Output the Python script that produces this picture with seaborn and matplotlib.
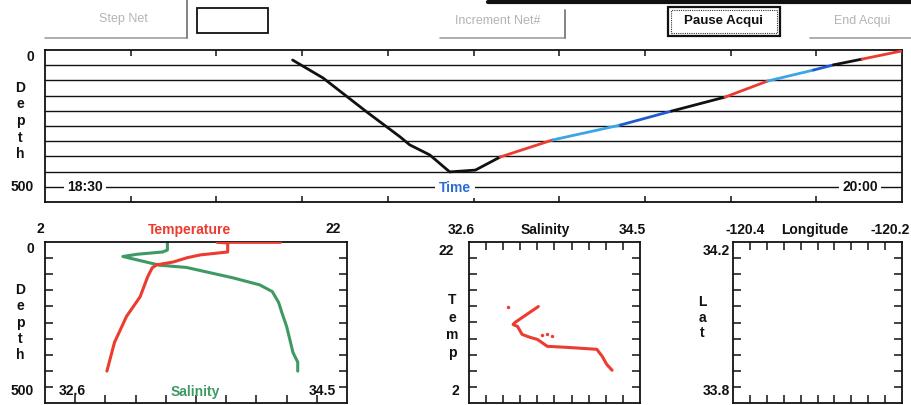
import itertools

import matplotlib
matplotlib.use("Agg")
import matplotlib.pyplot as plt
import numpy as np
import seaborn as sns
from matplotlib.lines import Line2D
from matplotlib.patches import Rectangle

W, H = 911, 405

# cast track: minutes after 18:30 vs depth, colour key per segment
cast_time = [26.0, 29.2, 33.8, 37.3, 38.3, 40.4, 42.5, 45.2, 47.8,
             53.3, 60.4, 65.8, 71.4, 75.9, 80.7, 82.8, 85.8, 90.0]
cast_depth = [33, 92, 204, 286, 312, 345, 401, 395, 352,
              296, 247, 201, 155, 102, 66, 49, 30, 3]
cast_leg = ["k", "k", "k", "k", "k", "k", "k", "k",
            "r", "c", "b", "k", "r", "c", "b", "k", "r"]

# temperature profile (deep -> surface)
temp_value = [6.1, 6.6, 7.4, 8.3, 8.8, 9.1, 9.4, 10.5, 11.4, 12.3,
              14.1, 14.1, 13.4, 17.6]
temp_depth = [401, 312, 231, 170, 108, 80, 71, 62, 49, 40, 31, 3, 1, 1]

# salinity profile (surface -> deep)
sal_value = [33.37, 33.37, 33.34, 33.18, 33.09, 33.32, 33.49, 33.58, 33.78,
             33.95, 34.03, 34.07, 34.09, 34.12, 34.14, 34.16, 34.19, 34.19]
sal_depth = [0, 25, 31, 38, 45, 72, 79, 89, 111,
             133, 154, 188, 219, 262, 302, 343, 373, 401]

# T-S diagram
ts_salinity = [33.37, 33.24, 33.11, 33.09, 33.14, 33.19, 33.28, 33.36,
               33.47, 33.69, 34.02, 34.08, 34.13, 34.19]
ts_temp = [13.98, 12.99, 12.0, 11.75, 11.5, 10.52, 10.15, 9.9,
           9.04, 8.91, 8.67, 7.8, 6.8, 6.07]
ts_stray_sal = [33.03, 33.41, 33.47, 33.52]
ts_stray_temp = [13.98, 10.4, 10.6, 10.27]

COLORS = {"k": "#111111", "r": "#ec3b30", "c": "#3aa6e6", "b": "#1f5bd0"}
RED = "#ec3b30"
GREEN = "#3e9a62"
GREY = "#b4b4b4"

sns.set_theme(style="white")
plt.rcParams["font.family"] = ["Liberation Sans", "DejaVu Sans"]
plt.rcParams["axes.linewidth"] = 1.3
plt.rcParams["axes.edgecolor"] = "#111111"

fig = plt.figure(figsize=(W / 100, H / 100), dpi=100)
fig.patch.set_facecolor("white")


def px_axes(x0, y0, x1, y1):
    return fig.add_axes([x0 / W, 1 - y1 / H, (x1 - x0) / W, (y1 - y0) / H])


def px_text(x, y, s, size=10, weight="bold", color="#111111", **kw):
    kw.setdefault("ha", "center")
    fig.text(x / W, 1 - y / H, s, fontsize=size, fontweight=weight,
             color=color, va="center", **kw)


def px_line(xs, ys, color="#111111", lw=1.0, **kw):
    fig.add_artist(Line2D([x / W for x in xs], [1 - y / H for y in ys],
                          color=color, lw=lw, transform=fig.transFigure, **kw))


def px_rect(x0, y0, x1, y1, **kw):
    fig.add_artist(Rectangle((x0 / W, 1 - y1 / H), (x1 - x0) / W, (y1 - y0) / H,
                             transform=fig.transFigure, fill=False, **kw))


def vertical_word(x, y0, step, word):
    for i, ch in enumerate(word):
        px_text(x, y0 + i * step, ch)


def box_ticks(ax, length=6, sides=("top", "bottom", "left", "right")):
    ax.set_xticks(np.linspace(*ax.get_xlim(), 11)[1:-1])
    ax.set_yticks(np.linspace(*ax.get_ylim(), 11)[1:-1])
    ax.tick_params(direction="in", length=length, width=1.1, color="#111111",
                   top="top" in sides, bottom="bottom" in sides,
                   left="left" in sides, right="right" in sides,
                   labelbottom=False, labelleft=False)
    ax.set_xlabel("")
    ax.set_ylabel("")


# ---- toolbar strip ----
px_line([488, 911], [1.5, 1.5], lw=3)
px_text(123, 19, "Step Net", size=9, weight="normal", color=GREY)
px_line([45, 187], [38, 38], color="#a0a0a0", lw=1.2)
px_line([187, 187], [0, 38], color="#707070", lw=1.2)
px_rect(197, 8, 268, 33, edgecolor="#111111", lw=1.3)
px_text(498, 21, "Increment Net#", size=9, weight="normal", color=GREY)
px_line([440, 565], [38, 38], color="#a0a0a0", lw=1.2)
px_line([565, 565], [10, 38], color="#707070", lw=1.2)
px_rect(668, 7, 780, 36, edgecolor="#111111", lw=1.6)
px_rect(671, 10, 777, 33, edgecolor="#333333", lw=0.8, ls=(0, (1, 1)))
px_text(724, 21, "Pause Acqui", size=9.5)
px_text(862, 21, "End Acqui", size=9, weight="normal", color=GREY)
px_line([810, 911], [38, 38], color="#a0a0a0", lw=1.2)

# ---- top panel: depth vs time ----
ax = px_axes(45, 50, 902, 202)
ax.set_xlim(0, 90)
ax.set_ylim(500, 0)
for d in np.arange(50, 501, 50):
    ax.axhline(d, color="#111111", lw=1.0, zorder=1)
seg = list(zip(cast_leg, range(len(cast_leg))))
for key, grp in itertools.groupby(seg, key=lambda t: t[0]):
    idx = [i for _, i in grp]
    lo, hi = idx[0], idx[-1] + 2
    sns.lineplot(x=cast_time[lo:hi], y=cast_depth[lo:hi], color=COLORS[key],
                 lw=2.0, estimator=None, sort=False, ax=ax, zorder=3)
box_ticks(ax, length=4, sides=("top", "bottom"))
bb = dict(boxstyle="square,pad=0.25", fc="white", ec="none")
px_text(85, 187, "18:30", bbox=bb)
px_text(455, 188, "Time", color="#2a6fd0", bbox=bb)
px_text(860, 187, "20:00", bbox=bb)
px_text(30, 57, "0")
px_text(22, 187, "500")
vertical_word(20, 88, 16.5, "Depth")

# ---- bottom left: temperature & salinity profiles ----
axs = px_axes(45, 242, 347, 403)
axs.set_xlim(32.6, 34.5)
axs.set_ylim(500, 0)
sns.lineplot(x=sal_value, y=sal_depth, color=GREEN, lw=2.2,
             estimator=None, sort=False, ax=axs)
box_ticks(axs)
axt = axs.twiny()
axt.set_xlim(2, 22)
axt.set_ylim(500, 0)
sns.lineplot(x=temp_value, y=temp_depth, color=RED, lw=2.2,
             estimator=None, sort=False, ax=axt)
axt.set_axis_off()
px_text(40, 229, "2")
px_text(190, 230, "Temperature", color=RED)
px_text(333, 229, "22")
px_text(30, 249, "0")
px_text(22, 391, "500")
px_text(72, 391, "32.6")
px_text(195, 392, "Salinity", color=GREEN)
px_text(322, 391, "34.5")
vertical_word(20, 290, 16.3, "Depth")

# ---- bottom middle: T-S ----
ax2 = px_axes(469, 242, 640, 403)
ax2.set_xlim(32.6, 34.5)
ax2.set_ylim(2, 22)
sns.lineplot(x=ts_salinity, y=ts_temp, color=RED, lw=2.2,
             estimator=None, sort=False, ax=ax2)
sns.scatterplot(x=ts_stray_sal, y=ts_stray_temp, color=RED, s=6,
                linewidth=0, ax=ax2)
box_ticks(ax2)
px_text(461, 230, "32.6")
px_text(545, 230, "Salinity")
px_text(632, 230, "34.5")
px_text(446, 251, "22")
px_text(455, 391, "2")
vertical_word(452, 300, 17.5, "Temp")

# ---- bottom right: empty lat/lon ----
ax3 = px_axes(733, 242, 902, 403)
ax3.set_xlim(-120.4, -120.2)
ax3.set_ylim(33.8, 34.2)
box_ticks(ax3)
px_text(745, 230, "-120.4")
px_text(815, 230, "Longitude")
px_text(890, 230, "-120.2")
px_text(716, 251, "34.2")
px_text(716, 391, "33.8")
vertical_word(702, 302, 15.5, "Lat")

fig.savefig("out.png", dpi=100)
